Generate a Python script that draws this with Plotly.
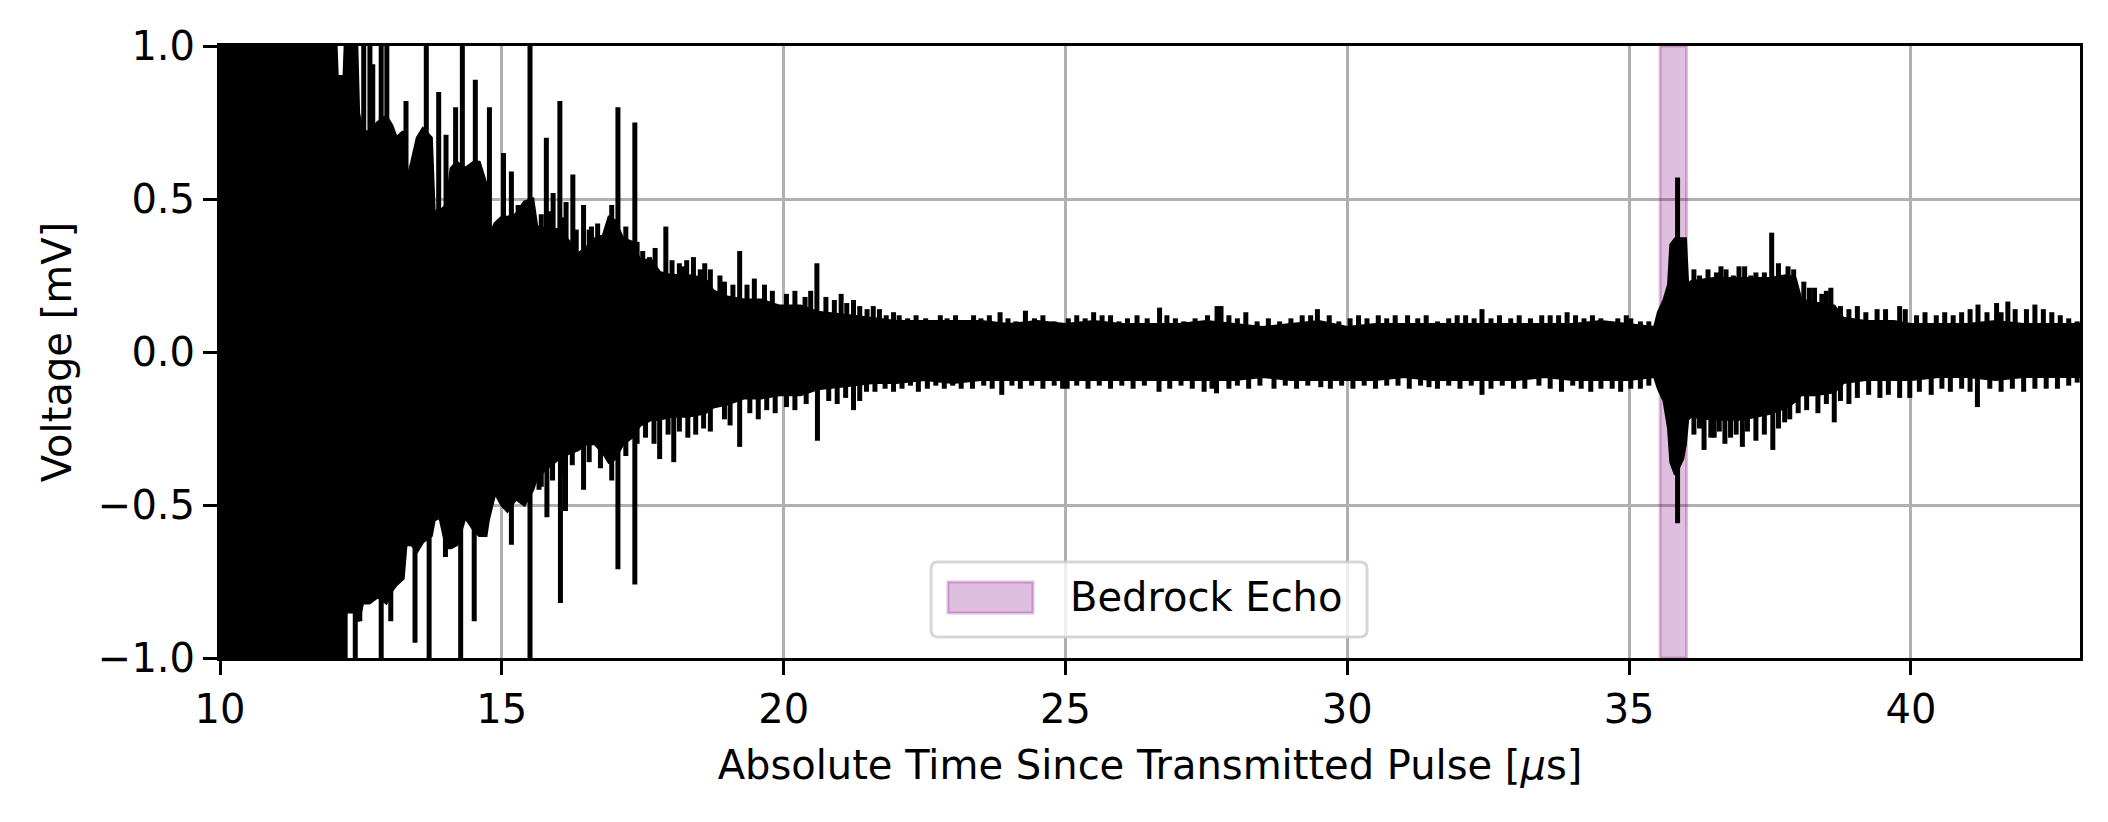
import plotly.graph_objects as go

# ---------------- data ----------------
# dense core of the trace: time [us], upper and lower envelope [mV]
core_t = [10.00, 12.05, 12.08, 12.20, 12.23, 12.42, 12.46, 12.53, 12.65, 12.80,
          12.95, 13.05, 13.13, 13.25, 13.30, 13.40, 13.50, 13.60, 13.75, 13.80,
          13.90, 14.02, 14.10, 14.20, 14.35, 14.50, 14.60, 14.72, 14.76, 14.88,
          15.00, 15.10, 15.25, 15.40, 15.55, 15.62, 15.80, 16.00, 16.20, 16.35,
          16.50, 16.65, 16.80, 16.90, 17.00, 17.15, 17.30, 17.45, 17.65, 17.80,
          18.00, 18.30, 18.60, 18.75, 19.00, 19.30, 19.60, 19.93, 20.30, 20.60,
          21.10, 21.60, 22.00, 22.50, 23.00, 23.50, 24.00, 24.50, 25.00, 25.50,
          26.00, 26.50, 27.00, 27.50, 28.00, 28.50, 29.00, 29.50, 30.00, 30.50,
          31.00, 31.50, 32.00, 32.50, 33.00, 33.50, 34.00, 34.50, 35.00, 35.45,
          35.52, 35.62, 35.70, 35.74, 35.82, 35.95, 36.00, 36.04, 36.10, 36.50,
          37.00, 37.50, 37.80, 37.95, 38.05, 38.30, 38.64, 38.80, 39.20, 39.70,
          40.00, 40.50, 41.00, 41.50, 42.00, 42.50, 43.05]
core_hi = [1.05, 1.05, 0.90, 0.90, 1.05, 1.05, 0.78, 0.72, 0.72, 0.75,
           0.77, 0.74, 0.70, 0.72, 0.55, 0.62, 0.70, 0.73, 0.70, 0.46,
           0.46, 0.48, 0.60, 0.62, 0.60, 0.62, 0.62, 0.55, 0.37, 0.42,
           0.44, 0.44, 0.45, 0.49, 0.50, 0.41, 0.40, 0.40, 0.36, 0.32,
           0.34, 0.37, 0.38, 0.44, 0.43, 0.37, 0.36, 0.30, 0.30, 0.26,
           0.25, 0.25, 0.24, 0.20, 0.18, 0.17, 0.17, 0.15, 0.15, 0.13,
           0.12, 0.11, 0.10, 0.10, 0.10, 0.10, 0.09, 0.10, 0.09, 0.10,
           0.09, 0.09, 0.09, 0.10, 0.09, 0.08, 0.09, 0.10, 0.08, 0.09,
           0.09, 0.09, 0.09, 0.09, 0.09, 0.09, 0.09, 0.10, 0.09, 0.08,
           0.13, 0.17, 0.22, 0.35, 0.37, 0.37, 0.37, 0.22, 0.23, 0.24,
           0.24, 0.24, 0.25, 0.24, 0.17, 0.16, 0.15, 0.11, 0.10, 0.10,
           0.09, 0.09, 0.09, 0.10, 0.09, 0.09, 0.09]
core_lo = [-1.05, -1.05, -1.05, -1.05, -0.85, -0.85, -0.88, -0.82, -0.82, -0.80,
           -0.82, -0.78, -0.76, -0.74, -0.63, -0.63, -0.65, -0.62, -0.60, -0.55,
           -0.54, -0.64, -0.64, -0.63, -0.54, -0.58, -0.60, -0.60, -0.55, -0.46,
           -0.50, -0.52, -0.48, -0.50, -0.45, -0.41, -0.38, -0.35, -0.33, -0.32,
           -0.30, -0.30, -0.33, -0.36, -0.35, -0.30, -0.28, -0.24, -0.22, -0.22,
           -0.21, -0.21, -0.20, -0.18, -0.17, -0.15, -0.15, -0.14, -0.14, -0.12,
           -0.11, -0.10, -0.10, -0.09, -0.10, -0.09, -0.09, -0.09, -0.09, -0.09,
           -0.09, -0.09, -0.09, -0.09, -0.09, -0.08, -0.09, -0.09, -0.09, -0.09,
           -0.08, -0.09, -0.09, -0.09, -0.09, -0.08, -0.09, -0.09, -0.09, -0.08,
           -0.12, -0.16, -0.25, -0.36, -0.40, -0.35, -0.30, -0.22, -0.21, -0.22,
           -0.22, -0.20, -0.18, -0.16, -0.14, -0.14, -0.13, -0.10, -0.09, -0.09,
           -0.09, -0.08, -0.08, -0.09, -0.08, -0.08, -0.08]

# isolated spikes sticking out of the core: time [us], peak voltage [mV]
spike_t = [12.55, 12.66, 12.71, 12.86, 12.96, 13.30, 13.66, 13.88, 14.01, 14.18,
           14.30, 14.53, 14.78, 15.03, 15.17, 15.29, 15.50, 15.79, 15.91, 16.03,
           16.14, 16.26, 16.45, 16.59, 17.06, 17.36, 17.91, 18.15, 18.28, 18.60,
           18.87, 19.22, 20.59, 21.12, 21.24, 21.59, 21.95, 22.78, 23.37, 23.84,
           24.29, 25.50, 25.65, 26.27, 26.67, 27.52, 27.69, 27.76, 28.20, 29.47,
           29.68, 31.07, 32.10, 32.39, 34.35, 35.03, 35.86, 36.63, 36.95, 37.16,
           37.53, 37.82, 38.29, 38.58, 39.80, 41.19, 41.52, 41.72, 42.20,
           12.22, 12.40, 12.48, 12.86, 13.03, 13.46, 13.71, 14.00, 14.27, 14.51,
           15.17, 15.50, 15.66, 15.80, 16.04, 16.13, 16.45, 17.06, 17.36, 17.80,
           18.05, 18.44, 19.22, 20.60, 21.24, 21.47, 22.39, 23.87, 25.03, 26.66,
           27.46, 27.68, 27.90, 29.53, 31.45, 32.39, 33.40, 34.32, 35.03, 35.86,
           36.33, 36.51, 36.80, 37.01, 37.55, 37.76, 38.64, 39.80, 39.98, 40.36,
           41.18, 42.20]
spike_v = [1.05, 1.05, 0.94, 1.05, 1.05, 0.82, 1.05, 0.85, 0.71, 0.80,
           1.05, 0.89, 0.80, 0.65, 0.59, 0.48, 1.05, 0.70, 0.52, 0.82,
           0.49, 0.58, 0.48, 0.41, 0.80, 0.75, 0.41, 0.29, 0.30, 0.29,
           0.25, 0.33, 0.29, 0.16, 0.17, 0.15, 0.13, 0.12, 0.12, 0.13,
           0.135, 0.13, 0.12, 0.12, 0.145, 0.12, 0.15, 0.15, 0.13, 0.14,
           0.12, 0.12, 0.12, 0.14, 0.12, 0.11, 0.57, 0.28, 0.28, 0.25,
           0.39, 0.28, 0.21, 0.21, 0.15, 0.155, 0.16, 0.165, 0.155,
           -1.05, -1.05, -0.88, -1.05, -0.88, -0.95, -1.05, -0.67, -1.05, -0.88,
           -0.63, -1.05, -0.45, -0.54, -0.82, -0.52, -0.45, -0.71, -0.76, -0.35,
           -0.36, -0.27, -0.31, -0.29, -0.19, -0.13, -0.13, -0.14, -0.12, -0.13,
           -0.13, -0.135, -0.12, -0.115, -0.115, -0.14, -0.11, -0.13, -0.12, -0.56,
           -0.32, -0.28, -0.28, -0.31, -0.32, -0.23, -0.23, -0.15, -0.15, -0.14,
           -0.18, -0.12]

# small ripples along the upper edge of the trace
ripple_up_t = [15.70, 15.85, 16.10, 16.32, 16.55, 16.70, 16.95, 17.20, 17.40,
               17.50, 17.62, 17.72, 18.02, 18.22, 18.40, 18.52, 18.70, 18.95, 19.10,
               19.35, 19.48, 19.66, 19.80, 20.05, 20.20, 20.38, 20.48, 20.75, 20.90,
               21.02, 21.35, 21.48, 21.70, 21.82, 22.05, 22.20, 22.35, 22.52, 22.65,
               22.90, 23.05, 23.20, 23.50, 23.65, 23.98, 24.12, 24.45, 24.60, 24.80,
               25.05, 25.20, 25.35, 25.80, 25.95, 26.10, 26.45, 26.80, 26.95, 27.10,
               27.30, 27.90, 28.05, 28.40, 28.60, 28.80, 29.00, 29.20, 29.35, 29.85,
               30.05, 30.20, 30.35, 30.55, 30.70, 30.85, 31.25, 31.40, 31.60, 31.80,
               31.95, 32.25, 32.55, 32.70, 32.90, 33.05, 33.25, 33.45, 33.60, 33.75,
               33.90, 34.05, 34.20, 34.50, 34.65, 34.80, 34.95, 35.20, 35.35,
               36.15, 36.25, 36.40, 36.55, 36.72, 36.85, 37.05, 37.25, 37.40, 37.65,
               37.92, 38.10, 38.20, 38.42, 38.50, 38.75, 38.90, 39.05, 39.20, 39.40,
               39.55, 39.90, 40.10, 40.25, 40.45, 40.60, 40.75, 40.90, 41.05, 41.35,
               41.60, 41.85, 42.05, 42.35, 42.50, 42.65, 42.80, 42.95]
ripple_up_v = [0.45, 0.46, 0.44, 0.40, 0.40, 0.42, 0.48, 0.41, 0.36,
               0.33, 0.31, 0.34, 0.30, 0.28, 0.31, 0.27, 0.27, 0.23, 0.22,
               0.22, 0.24, 0.22, 0.20, 0.19, 0.20, 0.18, 0.20, 0.18, 0.17,
               0.19, 0.15, 0.14, 0.14, 0.12, 0.12, 0.11, 0.12, 0.11, 0.10,
               0.11, 0.12, 0.10, 0.11, 0.12, 0.11, 0.10, 0.11, 0.12, 0.10,
               0.11, 0.12, 0.11, 0.12, 0.10, 0.11, 0.11, 0.12, 0.11, 0.10,
               0.11, 0.12, 0.11, 0.10, 0.11, 0.10, 0.11, 0.12, 0.12, 0.10,
               0.11, 0.12, 0.11, 0.12, 0.11, 0.12, 0.11, 0.12, 0.10, 0.11,
               0.12, 0.11, 0.11, 0.12, 0.11, 0.12, 0.11, 0.12, 0.12, 0.12,
               0.13, 0.12, 0.11, 0.11, 0.10, 0.11, 0.12, 0.10, 0.10,
               0.27, 0.25, 0.27, 0.26, 0.27, 0.25, 0.28, 0.26, 0.26, 0.29,
               0.27, 0.23, 0.21, 0.19, 0.20, 0.15, 0.14, 0.15, 0.13, 0.14,
               0.14, 0.14, 0.12, 0.13, 0.12, 0.13, 0.12, 0.13, 0.14, 0.13,
               0.13, 0.14, 0.14, 0.14, 0.13, 0.12, 0.11, 0.10]

# small ripples along the lower edge of the trace
ripple_dn_t = [15.70, 15.90, 16.08, 16.25, 16.55, 16.75, 16.95, 17.20, 17.40,
               17.55, 17.70, 17.95, 18.15, 18.30, 18.58, 18.70, 18.95, 19.05, 19.40,
               19.55, 19.70, 19.85, 20.05, 20.20, 20.40, 20.80, 20.95, 21.10, 21.35,
               21.62, 21.80, 21.95, 22.10, 22.25, 22.55, 22.70, 22.85, 23.00, 23.15,
               23.35, 23.55, 23.70, 24.05, 24.20, 24.40, 24.60, 24.80, 24.95, 25.20,
               25.40, 25.60, 25.80, 26.00, 26.20, 26.40, 26.85, 27.05, 27.25, 27.60,
               28.05, 28.25, 28.45, 28.70, 28.90, 29.10, 29.30, 29.70, 29.90, 30.10,
               30.30, 30.50, 30.70, 30.90, 31.10, 31.30, 31.60, 31.80, 32.00, 32.20,
               32.55, 32.75, 32.95, 33.15, 33.60, 33.80, 34.00, 34.15, 34.50, 34.70,
               34.85, 35.20, 35.35,
               36.15, 36.25, 36.45, 36.60, 36.70, 36.90, 37.10, 37.25, 37.40, 37.65,
               37.85, 38.00, 38.15, 38.35, 38.50, 38.75, 38.90, 39.05, 39.25, 39.45,
               39.60, 40.15, 40.55, 40.70, 40.90, 41.05, 41.40, 41.60, 41.80, 42.00,
               42.40, 42.60, 42.80, 42.95]
ripple_dn_v = [-0.44, -0.42, -0.40, -0.37, -0.36, -0.38, -0.42, -0.34, -0.30,
               -0.28, -0.30, -0.27, -0.26, -0.28, -0.25, -0.26, -0.22, -0.24, -0.20,
               -0.22, -0.19, -0.20, -0.18, -0.19, -0.17, -0.16, -0.17, -0.15, -0.16,
               -0.13, -0.12, -0.13, -0.12, -0.11, -0.12, -0.11, -0.12, -0.11, -0.12,
               -0.12, -0.11, -0.12, -0.11, -0.12, -0.11, -0.12, -0.11, -0.12, -0.11,
               -0.12, -0.11, -0.12, -0.11, -0.12, -0.11, -0.12, -0.11, -0.12, -0.12,
               -0.11, -0.12, -0.11, -0.12, -0.11, -0.12, -0.11, -0.12, -0.11, -0.12,
               -0.11, -0.12, -0.11, -0.11, -0.12, -0.11, -0.12, -0.11, -0.12, -0.11,
               -0.12, -0.11, -0.12, -0.12, -0.12, -0.13, -0.11, -0.12, -0.12, -0.12,
               -0.13, -0.12, -0.11,
               -0.27, -0.25, -0.28, -0.26, -0.30, -0.27, -0.26, -0.29, -0.27, -0.25,
               -0.22, -0.20, -0.19, -0.20, -0.17, -0.16, -0.17, -0.15, -0.14, -0.15,
               -0.14, -0.13, -0.12, -0.13, -0.12, -0.13, -0.12, -0.13, -0.12, -0.13,
               -0.12, -0.12, -0.11, -0.10]

echo_window = [35.55, 36.02]          # highlighted bedrock echo [us]
echo_label = "Bedrock Echo"

x_range = [10, 43]
y_range = [-1.0, 1.0]
x_ticks = [10, 15, 20, 25, 30, 35, 40]
x_labels = ["10", "15", "20", "25", "30", "35", "40"]
y_ticks = [-1.0, -0.5, 0.0, 0.5, 1.0]
y_labels = ["\u22121.0", "\u22120.5", "0.0", "0.5", "1.0"]

x_title = "Absolute Time Since Transmitted Pulse [<i>\u03bc</i>s]"
y_title = "Voltage [mV]"

# ---------------- figure ----------------
FONT = "DejaVu Sans"
ECHO_FILL = "rgba(128,0,128,0.25)"
fig = go.Figure()

# bedrock echo span
ex = [echo_window[0], echo_window[1], echo_window[1], echo_window[0], echo_window[0]]
ey = [y_range[0], y_range[0], y_range[1], y_range[1], y_range[0]]
fig.add_trace(go.Scatter(
    x=ex, y=ey, mode="lines", fill="toself", fillcolor=ECHO_FILL,
    line=dict(color=ECHO_FILL, width=3),
    name=echo_label, showlegend=False, hoverinfo="skip"))

# dense core of the waveform
poly_x = core_t + core_t[::-1]
poly_y = core_hi + core_lo[::-1]
fig.add_trace(go.Scatter(
    x=poly_x, y=poly_y, mode="lines", fill="toself", fillcolor="black",
    line=dict(color="black", width=3), showlegend=False, hoverinfo="skip"))

# spikes and edge ripples, drawn as excursions from zero
sx, sy = [], []
for ts, vs in ((spike_t, spike_v), (ripple_up_t, ripple_up_v), (ripple_dn_t, ripple_dn_v)):
    for t, v in zip(ts, vs):
        sx += [t, t, None]
        sy += [0.0, v, None]
fig.add_trace(go.Scatter(
    x=sx, y=sy, mode="lines", line=dict(color="black", width=5),
    showlegend=False, hoverinfo="skip"))

axis_common = dict(
    showline=True, linecolor="black", linewidth=3, mirror=True,
    ticks="outside", ticklen=14, tickwidth=3, tickcolor="black",
    showgrid=True, gridcolor="#b0b0b0", gridwidth=3, zeroline=False,
    tickfont=dict(family=FONT, size=40, color="black"),
)

# legend box (matplotlib-style, lower centre of the axes), in axes fraction
lx0, lx1, ly0, ly1 = 0.3823, 0.6167, 0.0343, 0.1569
rx, ry = 0.0038, 0.0114
frame_path = (f"M{lx0+rx},{ly0} L{lx1-rx},{ly0} Q{lx1},{ly0} {lx1},{ly0+ry} "
              f"L{lx1},{ly1-ry} Q{lx1},{ly1} {lx1-rx},{ly1} L{lx0+rx},{ly1} "
              f"Q{lx0},{ly1} {lx0},{ly1-ry} L{lx0},{ly0+ry} Q{lx0},{ly0} {lx0+rx},{ly0} Z")
shapes = [
    dict(type="path", path=frame_path, xref="paper", yref="paper",
         fillcolor="rgba(255,255,255,0.8)", line=dict(color="rgba(204,204,204,0.8)", width=3),
         layer="above"),
    dict(type="rect", xref="paper", yref="paper", x0=0.3914, x1=0.4371, y0=0.0735, y1=0.1242,
         fillcolor=ECHO_FILL, line=dict(color=ECHO_FILL, width=3), layer="above"),
]
annotations = [
    dict(text=echo_label, xref="paper", yref="paper", x=0.4559, y=0.0995,
         xanchor="left", yanchor="middle", showarrow=False,
         font=dict(family=FONT, size=40, color="black")),
]

fig.update_layout(
    width=2100, height=814,
    margin=dict(l=212, r=28, t=38, b=164),
    paper_bgcolor="white", plot_bgcolor="white",
    font=dict(family=FONT, size=40, color="black"),
    xaxis=dict(range=x_range, tickvals=x_ticks, ticktext=x_labels,
               title=dict(text=x_title, font=dict(family=FONT, size=40), standoff=20),
               **axis_common),
    yaxis=dict(range=y_range, tickvals=y_ticks, ticktext=y_labels,
               title=dict(text=y_title, font=dict(family=FONT, size=40), standoff=14),
               **axis_common),
    shapes=shapes,
    annotations=annotations,
    showlegend=False,
)

fig.write_html("out.html")
